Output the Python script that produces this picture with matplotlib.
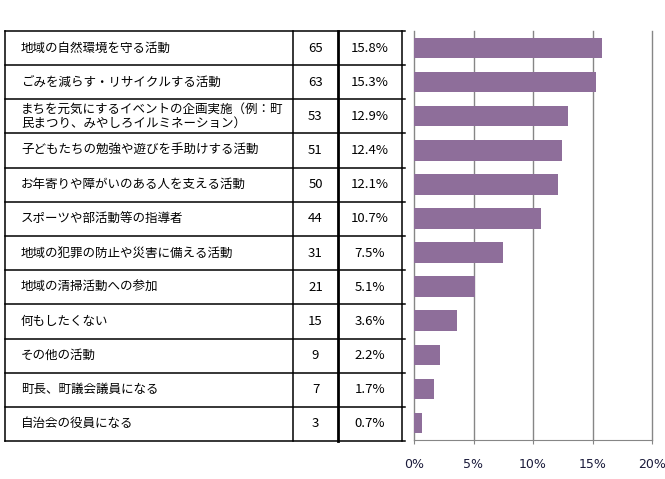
import matplotlib.pyplot as plt
from matplotlib.ticker import PercentFormatter

plt.rcParams['font.family'] = ['Noto Sans CJK JP', 'DejaVu Sans']

# 項目・人数・割合
labels = [
    "地域の自然環境を守る活動",
    "ごみを減らす・リサイクルする活動",
    "まちを元気にするイベントの企画実施（例：町\n民まつり、みやしろイルミネーション）",
    "子どもたちの勉強や遊びを手助けする活動",
    "お年寄りや障がいのある人を支える活動",
    "スポーツや部活動等の指導者",
    "地域の犯罪の防止や災害に備える活動",
    "地域の清掃活動への参加",
    "何もしたくない",
    "その他の活動",
    "町長、町議会議員になる",
    "自治会の役員になる",
]
counts = [65, 63, 53, 51, 50, 44, 31, 21, 15, 9, 7, 3]
percents = [15.8, 15.3, 12.9, 12.4, 12.1, 10.7, 7.5, 5.1, 3.6, 2.2, 1.7, 0.7]
xticks = [0, 5, 10, 15, 20]

W, H = 665, 479
fig = plt.figure(figsize=(W / 100, H / 100), dpi=100)


def box(x0, y0, x1, y1):
    # pixel box -> figure fraction
    return [x0 / W, 1 - y1 / H, (x1 - x0) / W, (y1 - y0) / H]


n = len(labels)

# --- table on the left ---
tab = fig.add_axes(box(5, 31, 402, 441))
tab.set_xlim(5, 402)
tab.set_ylim(n, 0)
tab.axis('off')
for i in range(n + 1):
    tab.plot([5, 405], [i, i], color='black', lw=1.1, clip_on=False)
for x, lw in [(5, 1.1), (293, 1.1), (338, 2.0), (402, 1.1)]:
    tab.plot([x, x], [0, n], color='black', lw=lw, clip_on=False)
for i in range(n):
    tab.text(21, i + 0.5, labels[i], ha='left', va='center',
             fontsize=9, linespacing=1.1)
    tab.text(315.5, i + 0.5, str(counts[i]), ha='center', va='center',
             fontsize=9.5)
    tab.text(370, i + 0.5, f"{percents[i]:.1f}%", ha='center', va='center',
             fontsize=9.5)

# --- bar chart on the right ---
ax = fig.add_axes(box(414, 31, 652, 440))
ax.barh(range(n), [p / 100 for p in percents], height=0.6, color='#8E6E9A')
ax.set_ylim(n - 0.5, -0.5)
ax.set_xlim(0, 0.2)
ax.set_xticks([t / 100 for t in xticks])
ax.xaxis.set_major_formatter(PercentFormatter(1.0, decimals=0))
ax.grid(axis='x', color='#868686', lw=1)
for g in ax.xaxis.get_gridlines():
    g.set_clip_on(False)
ax.set_axisbelow(True)
for s in ['top', 'right', 'left']:
    ax.spines[s].set_visible(False)
ax.spines['bottom'].set_color('#868686')
ax.set_yticks([])
ax.tick_params(axis='x', length=3, color='#868686', pad=10)
for lab in ax.get_xticklabels():
    lab.set_family('DejaVu Sans')
    lab.set_fontsize(9)
    lab.set_color('#1a1a3a')

fig.savefig('out.png', dpi=100)
